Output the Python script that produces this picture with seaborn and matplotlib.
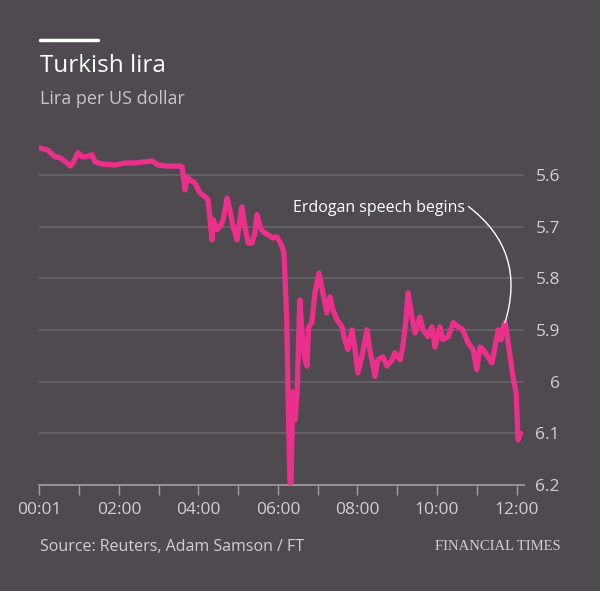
import matplotlib
matplotlib.use("Agg")
import matplotlib.pyplot as plt
import seaborn as sns
import pandas as pd

# ---- data (hours after midnight, lira per US dollar) ----
hours = [0, 0.2, 0.39, 0.52, 0.69, 0.77, 0.84, 0.97, 1.07, 1.19, 1.32, 1.4, 1.57, 1.9,
         2.15, 2.4, 2.65, 2.83, 2.98, 3.23, 3.53, 3.59, 3.66, 3.71, 3.79, 3.91, 4.04,
         4.16, 4.24, 4.34, 4.37, 4.47, 4.54, 4.62, 4.72, 4.79, 4.87, 4.97, 5.04, 5.09,
         5.17, 5.25, 5.34, 5.42, 5.47, 5.55, 5.62, 5.75, 5.87, 5.97, 6.05, 6.1, 6.15,
         6.22, 6.25, 6.3, 6.33, 6.37, 6.43, 6.48, 6.55, 6.63, 6.68, 6.73, 6.77, 6.85,
         6.93, 7.03, 7.1, 7.23, 7.31, 7.38, 7.48, 7.61, 7.68, 7.76, 7.86, 7.93, 8.01,
         8.11, 8.24, 8.31, 8.44, 8.51, 8.64, 8.74, 8.87, 8.94, 9.07, 9.14, 9.22, 9.27,
         9.37, 9.45, 9.57, 9.65, 9.77, 9.87, 9.95, 10.07, 10.15, 10.28, 10.41, 10.53,
         10.65, 10.78, 10.91, 11.0, 11.08, 11.16, 11.28, 11.38, 11.46, 11.54, 11.61,
         11.67, 11.71, 11.77, 11.84, 11.91, 11.99, 12.04, 12.09]
rate = [5.548, 5.552, 5.565, 5.567, 5.577, 5.583, 5.577, 5.557, 5.565, 5.565, 5.561,
        5.575, 5.579, 5.581, 5.577, 5.577, 5.575, 5.573, 5.581, 5.583, 5.583, 5.585,
        5.629, 5.604, 5.61, 5.616, 5.635, 5.642, 5.648, 5.726, 5.687, 5.706, 5.7,
        5.687, 5.645, 5.668, 5.7, 5.726, 5.687, 5.662, 5.7, 5.732, 5.732, 5.712,
        5.677, 5.7, 5.71, 5.716, 5.722, 5.72, 5.73, 5.739, 5.751, 5.88, 6.01, 6.195,
        6.195, 6.02, 6.074, 6.022, 5.842, 5.933, 5.958, 5.97, 5.894, 5.886, 5.828,
        5.79, 5.817, 5.867, 5.836, 5.861, 5.88, 5.894, 5.919, 5.938, 5.9, 5.933,
        5.983, 5.952, 5.9, 5.938, 5.99, 5.958, 5.952, 5.97, 5.958, 5.944, 5.958,
        5.933, 5.88, 5.828, 5.875, 5.906, 5.875, 5.9, 5.913, 5.894, 5.933, 5.894,
        5.919, 5.913, 5.886, 5.894, 5.9, 5.925, 5.938, 5.977, 5.933, 5.938, 5.952,
        5.964, 5.933, 5.9, 5.919, 5.894, 5.886, 5.913, 5.952, 5.99, 6.022, 6.113, 6.1]

y_ticks = [5.6, 5.7, 5.8, 5.9, 6.0, 6.1, 6.2]
y_tick_labels = ["5.6", "5.7", "5.8", "5.9", "6", "6.1", "6.2"]
x_major = [0, 2, 4, 6, 8, 10, 12]
x_tick_labels = ["00:01", "02:00", "04:00", "06:00", "08:00", "10:00", "12:00"]
x_minor = list(range(0, 13))

title = "Turkish lira"
subtitle = "Lira per US dollar"
source = "Source: Reuters, Adam Samson / FT"
brand = "FINANCIAL TIMES"
note = "Erdogan speech begins"
note_at = (11.71, 5.886)

BG = "#4e4a4f"
PINK = "#ec2f8a"
GRID = "#6b676c"
TXT = "#d2ced3"

sns.set_theme(style="dark")
plt.rcParams["font.family"] = ["Open Sans", "DejaVu Sans"]

fig = plt.figure(figsize=(6.0, 5.91), dpi=100, facecolor=BG)
ax = fig.add_axes([0.0658, 0.1794, 0.8083, 0.586])
ax.set_facecolor(BG)

df = pd.DataFrame({"hour": hours, "rate": rate})
sns.lineplot(data=df, x="hour", y="rate", ax=ax, color=PINK, linewidth=3.8,
             solid_joinstyle="round", solid_capstyle="round", zorder=3)

ax.set_xlim(0, 12.2)
ax.set_ylim(6.2, 5.53)
ax.set_xlabel("")
ax.set_ylabel("")

for s in ["top", "left", "right"]:
    ax.spines[s].set_visible(False)
ax.spines["bottom"].set_color("#a29ea3")
ax.spines["bottom"].set_linewidth(1.2)

ax.yaxis.tick_right()
ax.set_yticks(y_ticks)
ax.set_yticklabels(y_tick_labels)
ax.tick_params(axis="y", length=0, pad=25.5, labelsize=12.5, labelcolor=TXT)
for lab in ax.get_yticklabels():
    lab.set_horizontalalignment("right")
ax.yaxis.grid(True, color=GRID, linewidth=1.1)
ax.xaxis.grid(False)

ax.set_xticks(x_minor, minor=True)
ax.set_xticks(x_major)
ax.set_xticklabels(x_tick_labels)
ax.tick_params(axis="x", which="both", direction="out", length=7, width=1,
               color="#a29ea3", bottom=True)
ax.tick_params(axis="x", which="major", pad=5, labelsize=12.5, labelcolor=TXT)

ax.annotate(note, xy=note_at, xytext=(465, 591 - 208), textcoords="figure pixels",
            ha="right", va="center", color="white", fontsize=11.5,
            arrowprops=dict(arrowstyle="-", color="white", linewidth=1,
                            connectionstyle="arc3,rad=-0.36", shrinkA=0, shrinkB=0,
                            relpos=(1.0, 0.75)))

# header
fig.add_artist(plt.Line2D([40 / 600, 98 / 600], [1 - 40 / 591, 1 - 40 / 591],
                          color="white", linewidth=2.5, transform=fig.transFigure))
fig.text(40 / 600, 1 - 66 / 591, title, color="white", fontsize=17.5, fontweight="medium",
         ha="left", va="center")
fig.text(40 / 600, 1 - 99 / 591, subtitle, color="#c8c4c9", fontsize=13,
         ha="left", va="center")
fig.text(40 / 600, 1 - 547 / 591, source, color=TXT, fontsize=11.5,
         ha="left", va="center")
fig.text(561 / 600, 1 - 547 / 591, brand, color=TXT, fontsize=10.5,
         family=["Liberation Serif", "DejaVu Serif"], ha="right", va="center")

fig.savefig("out.png", dpi=100, facecolor=BG)
